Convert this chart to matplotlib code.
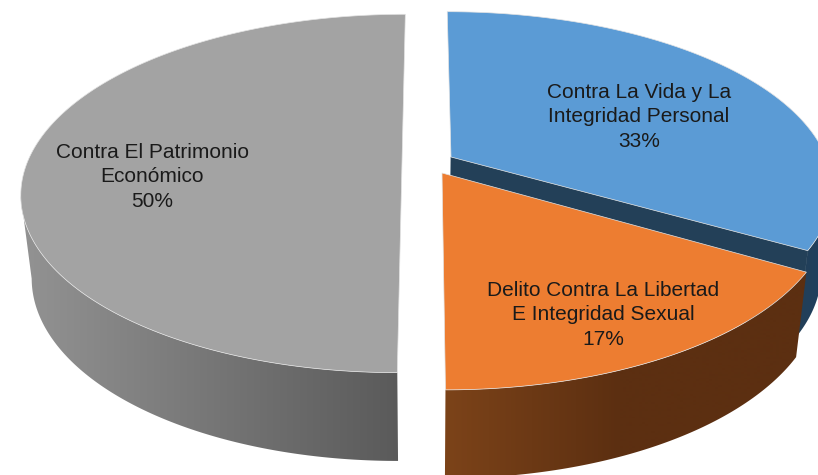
import numpy as np
import matplotlib
matplotlib.use("Agg")
import matplotlib.pyplot as plt
from matplotlib.colors import to_rgb
from matplotlib.patches import Polygon

# Data (labels show the rounded percentage)
categories = ["Contra La Vida y La\nIntegridad Personal",
              "Delito Contra La Libertad\nE Integridad Sexual",
              "Contra El Patrimonio\nEconómico"]
values = [33.4, 16.6, 50]
top_colors = ["#5b9bd5", "#ed7d31", "#a3a3a3"]
wall_colors = ["#234058", None, None]
# side shading, left end -> right end
side_colors = [("#234058", "#1f3f5e"), ("#7c4319", "#5c2f11"), ("#939393", "#5a5a5a")]
shade_range = [(800, 818), (445, 620), (20, 400)]
label_pos = [(639, 117), (603, 315), (152, 177)]

# pixel-space "camera" of the fake 3D pie
X0 = 425
K = 0.17          # perspective strength
DEPTH = 82
BASE_X, BASE_Y = 0.973, 1.03
# per slice: centre x offset, centre y, radius x, radius y
apex = [(26, 157), (17, 173), (-23, 163)]
radii = [(375, 170), (384, 180), (375, 174)]


def project(theta, i, base=False):
    """theta clockwise from 12 o'clock, returns pixel x, y."""
    u, v = np.sin(theta), np.cos(theta)
    s = 1.0 / (1.0 + K * v)
    ox, oy = apex[i]
    rx, ry = radii[i]
    if base:
        return X0 + (ox + rx * u) * s * BASE_X, oy - ry * v * s * BASE_Y + DEPTH
    return X0 + (ox + rx * u) * s, oy - ry * v * s


def side_outline(ts, i):
    """Visible wall outline: rim and base joined at their silhouette points."""
    xt, yt = project(ts, i)
    xb, yb = project(ts, i, base=True)
    if i == 2:      # gray wall stops at its left extreme
        a, b = np.argmin(xt), np.argmin(xb)
        xt, yt, xb, yb = xt[:a + 1], yt[:a + 1], xb[:b + 1], yb[:b + 1]
    elif i == 0:    # blue wall starts at its right extreme
        a, b = np.argmax(xt), np.argmax(xb)
        xt, yt, xb, yb = xt[a:], yt[a:], xb[b:], yb[b:]
    return np.c_[np.r_[xt, xb[::-1]], np.r_[yt, yb[::-1]]]


fig = plt.figure(figsize=(8.18, 4.75), dpi=100)
ax = fig.add_axes([0, 0, 1, 1])

fracs = np.array(values) / sum(values)
ends = np.cumsum(fracs) * 2 * np.pi
starts = ends - fracs * 2 * np.pi

# back to front: gray, blue, orange
for order, i in enumerate([2, 0, 1]):
    z = 1 + order
    ts = np.linspace(starts[i], ends[i], 361)
    x_top, y_top = project(ts, i)
    off_x, off_y = apex[i]

    # outer wall: horizontal gradient clipped to the visible rim band
    band = Polygon(side_outline(ts, i), closed=True, transform=ax.transData,
                   facecolor="none", edgecolor="none")
    ax.add_patch(band)
    c_l, c_r = np.array(to_rgb(side_colors[i][0])), np.array(to_rgb(side_colors[i][1]))
    lo, hi = shade_range[i]
    px = np.arange(0, 819)
    f = np.clip((px - lo) / (hi - lo), 0, 1)[None, :, None]
    grad = c_l[None, None, :] + (c_r - c_l)[None, None, :] * f
    im = ax.imshow(grad, extent=(0, 818, 475, 0), aspect="auto", zorder=z,
                   interpolation="bilinear")
    im.set_clip_path(band)

    # inner wall along the end edge of the slice
    if wall_colors[i]:
        ex, ey = project(ends[i], i)
        bx, by = project(ends[i], i, base=True)
        ax.fill([X0 + off_x, ex, bx, X0 + off_x * BASE_X],
                [off_y, ey, by, off_y + DEPTH],
                color=wall_colors[i], lw=0.5, zorder=z)

    # top face
    ax.fill(np.r_[X0 + off_x, x_top], np.r_[off_y, y_top],
            facecolor=top_colors[i], edgecolor="#e4e4e4", lw=0.5, zorder=z)

    ax.text(*label_pos[i], f"{categories[i]}\n{round(values[i])}%", ha="center", va="center",
            family=["Liberation Sans", "DejaVu Sans"], fontsize=15,
            color="#1a1a1a", linespacing=1.36, zorder=9)

ax.set_xlim(0, 818)
ax.set_ylim(475, 0)
ax.set_axis_off()

fig.savefig("out.png", dpi=100)
